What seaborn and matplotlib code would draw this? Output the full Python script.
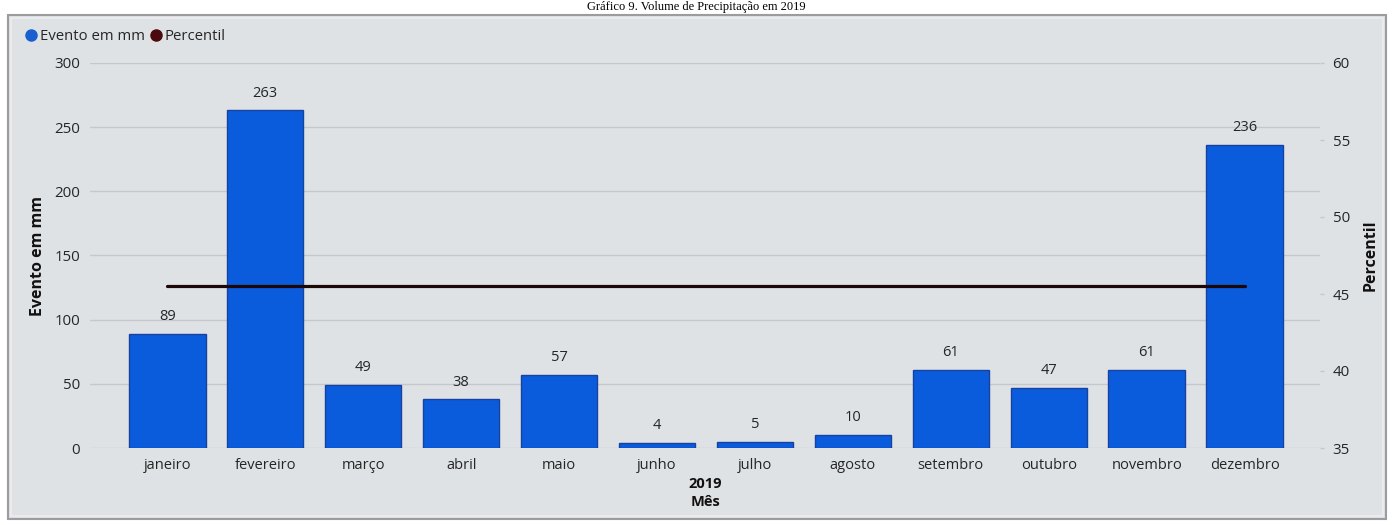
import matplotlib
matplotlib.use("Agg")
import matplotlib.pyplot as plt
import seaborn as sns
import pandas as pd
from matplotlib.patches import Rectangle
from matplotlib.lines import Line2D

months = ["janeiro", "fevereiro", "março", "abril", "maio", "junho",
          "julho", "agosto", "setembro", "outubro", "novembro", "dezembro"]
evento_mm = [89, 263, 49, 38, 57, 4, 5, 10, 61, 47, 61, 236]
percentil = [45.5] * 12
left_ticks = [0, 50, 100, 150, 200, 250, 300]
right_ticks = [35, 40, 45, 50, 55, 60]

title = "Gráfico 9. Volume de Precipitação em 2019"

sns.set_theme(style="white")
plt.rcParams['font.family'] = ['Open Sans', 'DejaVu Sans']

W, H = 1392, 525
fig = plt.figure(figsize=(W / 100, H / 100), dpi=100)
fig.patch.set_facecolor("white")

panel_bg = "#dfe2e5"
# outer panel
fig.patches.append(Rectangle((8 / W, 1 - 519 / H), (1386 - 8) / W, (519 - 15) / H,
                             transform=fig.transFigure, facecolor=panel_bg,
                             edgecolor="#9c9c9c", linewidth=1.5, zorder=-2))
fig.patches.append(Rectangle((11 / W, 1 - 516 / H), (1383 - 11) / W, (516 - 18) / H,
                             transform=fig.transFigure, facecolor="none",
                             edgecolor="#eceef0", linewidth=1.2, zorder=-1))

fig.text(0.5, 1 - 7 / H, title, ha="center", va="center",
         family=["Liberation Serif", "DejaVu Serif"], fontsize=9, color="black")

left, right = 90 / W, 1320 / W
bottom, top = 1 - 448 / H, 1 - 63 / H
ax = fig.add_axes([left, bottom, right - left, top - bottom])
ax.set_facecolor("none")
ax.set_zorder(1)

df = pd.DataFrame({"Mês": months, "Evento em mm": evento_mm, "Percentil": percentil})

sns.barplot(data=df, x="Mês", y="Evento em mm", ax=ax, color="#0b5bdd",
            saturation=1, width=0.78, edgecolor="#1842a0", linewidth=1, zorder=3)
ax.set_ylim(0, 300)
ax.set_xlim(-0.79, 11.77)
ax.set_yticks(left_ticks)
ax.grid(axis="y", color="#c4c8cc", linewidth=1, zorder=0)
ax.set_axisbelow(True)
for s in ax.spines.values():
    s.set_visible(False)
ax.tick_params(axis="y", length=0, pad=7, labelsize=10.8, labelcolor="#252525")
ax.tick_params(axis="x", length=0, pad=7, labelsize=10.5, labelcolor="#252525")

for i, v in enumerate(evento_mm):
    ax.annotate(str(v), (i, v), xytext=(0, 7), textcoords="offset points",
                ha="center", va="bottom", fontsize=10.5, color="#252525")

ax.set_xlabel("2019\nMês", fontsize=10.5, fontweight="bold", color="#111111",
              labelpad=3, linespacing=1.38)
ax.set_ylabel("Evento em mm", fontsize=11.5, fontweight="bold", color="#111111",
              labelpad=6)

ax2 = ax.twinx()
sns.lineplot(data=df, x="Mês", y="Percentil", ax=ax2, color="#1c0606",
             linewidth=2.3, zorder=4)
ax2.set_ylim(35, 60)
ax2.set_yticks(right_ticks)
for s in ax2.spines.values():
    s.set_visible(False)
ax2.tick_params(axis="y", length=3, width=1, color="#c4c8cc", pad=6,
                labelsize=10.8, labelcolor="#252525")
ax2.set_ylabel("Percentil", fontsize=11.5, fontweight="bold", color="#111111",
               labelpad=9)
ax2.grid(False)

handles = [Line2D([], [], marker="o", linestyle="none", markersize=8,
                  markerfacecolor="#1a5fd0", markeredgecolor="#1a5fd0"),
           Line2D([], [], marker="o", linestyle="none", markersize=8,
                  markerfacecolor="#4a0a0e", markeredgecolor="#4a0a0e")]
fig.legend(handles, ["Evento em mm", "Percentil"], loc="center left",
           bbox_to_anchor=(24 / W, 1 - 37 / H), ncol=2, frameon=False,
           fontsize=10.7, handletextpad=0.05, columnspacing=0.3, handlelength=1.0,
           borderaxespad=0, borderpad=0)

fig.savefig("out.png", dpi=100, facecolor=fig.get_facecolor())
